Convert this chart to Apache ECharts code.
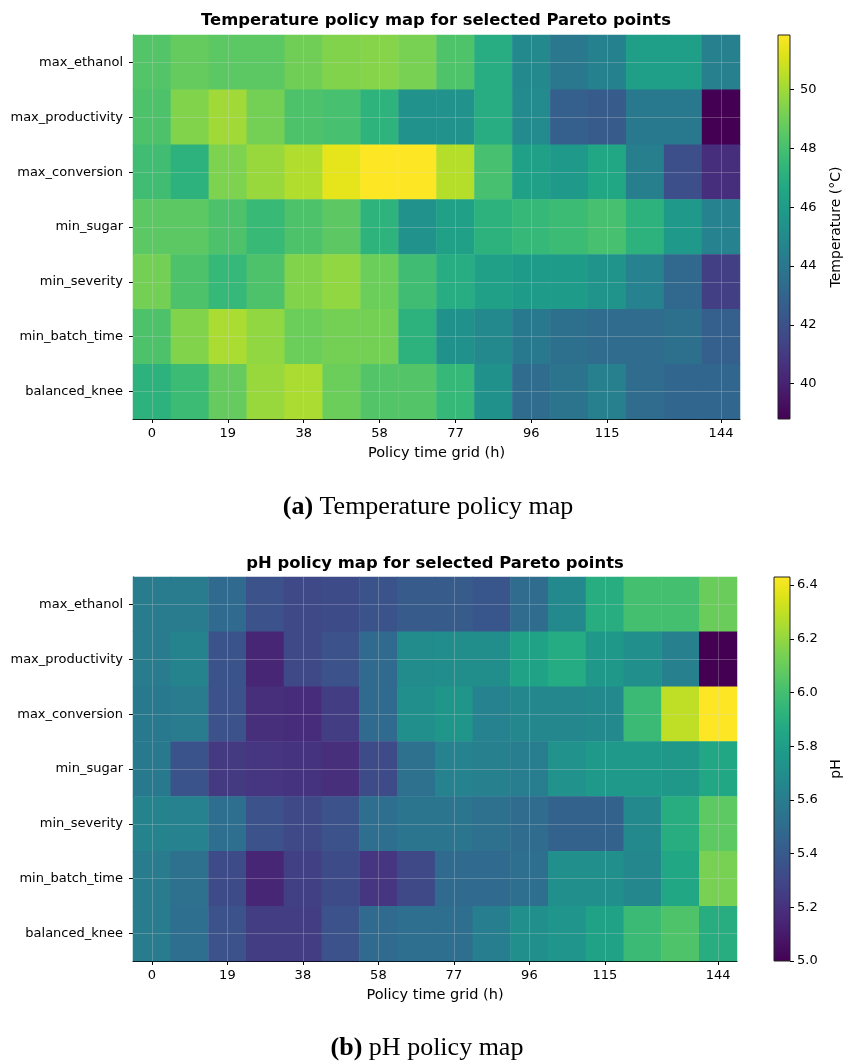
<!DOCTYPE html>
<html>
<head>
<meta charset="utf-8">
<title>Policy maps</title>
<script src="https://cdn.jsdelivr.net/npm/echarts@6/dist/echarts.min.js"></script>
<style>
    html, body { margin: 0; padding: 0; background: #fff; }
    #policy_maps { width: 844px; height: 1061px; }
</style>
</head>
<body>
<div id="policy_maps"></div>
<script>

// ------------------------------
// Data
// ------------------------------

var paretoPoints = ['max_ethanol', 'max_productivity', 'max_conversion', 'min_sugar',
    'min_severity', 'min_batch_time', 'balanced_knee'];

// policy time grid (h), 16 control intervals
var timeGrid = [0, 9.6, 19.2, 28.8, 38.4, 48, 57.6, 67.2, 76.8, 86.4, 96, 105.6, 115.2, 124.8, 134.4, 144];
var timeTickIdx = [0, 2, 4, 6, 8, 10, 12, 15];

// temperature (°C), one row per pareto point
var tempMaxEthanol      = [48.3, 48.75, 48.5, 48.5, 49.0, 49.4, 49.45, 49.2, 48.2, 46.9, 44.9, 44.0, 44.5, 46.1, 46.1, 44.45];
var tempMaxProductivity = [48.15, 49.4, 50.0, 49.1, 48.15, 48.0, 47.25, 45.4, 45.4, 46.9, 45.0, 42.7, 42.55, 44.1, 44.1, 38.8];
var tempMaxConversion   = [47.8, 47.2, 49.3, 49.85, 50.3, 51.35, 51.85, 51.85, 50.4, 48.0, 46.2, 45.8, 46.6, 44.4, 41.9, 40.5];
var tempMinSugar        = [48.5, 48.5, 48.15, 47.6, 48.15, 48.55, 47.25, 45.4, 46.2, 47.2, 47.5, 47.7, 48.0, 47.2, 45.8, 44.55];
var tempMinSeverity     = [49.1, 48.15, 47.5, 48.15, 49.4, 49.7, 48.9, 47.8, 46.9, 46.2, 46.0, 45.9, 45.5, 44.55, 43.2, 41.2];
var tempMinBatchTime    = [48.15, 49.4, 50.2, 49.7, 48.9, 49.1, 49.1, 47.2, 45.3, 44.9, 44.1, 43.6, 43.35, 43.35, 43.6, 42.7];
var tempBalancedKnee    = [47.2, 47.7, 48.75, 49.85, 50.2, 48.9, 48.3, 48.3, 47.5, 45.3, 43.35, 43.8, 44.45, 43.35, 43.1, 43.1];

// pH, one row per pareto point
var phMaxEthanol      = [5.59, 5.59, 5.49, 5.36, 5.31, 5.32, 5.37, 5.41, 5.41, 5.38, 5.50, 5.67, 5.89, 6.0, 6.0, 6.1];
var phMaxProductivity = [5.59, 5.64, 5.37, 5.15, 5.31, 5.36, 5.49, 5.69, 5.70, 5.70, 5.82, 5.88, 5.76, 5.71, 5.62, 5.0];
var phMaxConversion   = [5.58, 5.59, 5.36, 5.19, 5.18, 5.26, 5.49, 5.71, 5.75, 5.63, 5.66, 5.66, 5.67, 5.97, 6.29, 6.43];
var phMinSugar        = [5.58, 5.37, 5.24, 5.22, 5.21, 5.19, 5.32, 5.53, 5.63, 5.62, 5.60, 5.72, 5.77, 5.77, 5.76, 5.85];
var phMinSeverity     = [5.64, 5.63, 5.51, 5.36, 5.31, 5.36, 5.51, 5.56, 5.56, 5.53, 5.50, 5.45, 5.45, 5.67, 5.89, 6.07];
var phMinBatchTime    = [5.59, 5.53, 5.32, 5.15, 5.27, 5.32, 5.22, 5.31, 5.49, 5.49, 5.51, 5.71, 5.71, 5.66, 5.85, 6.14];
var phBalancedKnee    = [5.59, 5.51, 5.36, 5.26, 5.26, 5.36, 5.49, 5.51, 5.51, 5.61, 5.71, 5.74, 5.82, 5.97, 6.03, 5.89];

// colorbar ranges and ticks
var tempRange = [38.8, 51.85];
var tempTicks = [40, 42, 44, 46, 48, 50];
var phRange = [5.0, 6.43];
var phTicks = [5.0, 5.2, 5.4, 5.6, 5.8, 6.0, 6.2, 6.4];

var tempRows = [tempMaxEthanol, tempMaxProductivity, tempMaxConversion, tempMinSugar,
    tempMinSeverity, tempMinBatchTime, tempBalancedKnee];
var phRows = [phMaxEthanol, phMaxProductivity, phMaxConversion, phMinSugar,
    phMinSeverity, phMinBatchTime, phBalancedKnee];


// ------------------------------
// Setup
// ------------------------------

var viridis = ['#440154', '#471365', '#482475', '#463480', '#414487', '#3b528b', '#355f8d',
    '#2f6c8e', '#2a788e', '#25848e', '#21918c', '#1e9c89', '#22a884', '#2fb47c', '#44bf70',
    '#5ec962', '#7ad151', '#9bd93c', '#bddf26', '#dfe318', '#fde725'];

var FONT = 'DejaVu Sans';
var timeLabels = timeGrid.map(function (t) { return String(Math.round(t)); });

var toCells = function (rows) {
    var cells = [];
    rows.forEach(function (row, r) {
        row.forEach(function (v, c) {
            cells.push([c, r, v]);
        });
    });
    return cells;
};

var isTimeTick = function (index) {
    return timeTickIdx.indexOf(index) >= 0;
};

// grid lines like matplotlib's ax.grid
var gridLines = function () {
    var lines = timeTickIdx.map(function (i) { return { xAxis: timeLabels[i] }; });
    paretoPoints.forEach(function (p) { lines.push({ yAxis: p }); });
    return {
        silent: true,
        symbol: 'none',
        label: { show: false },
        lineStyle: { color: 'rgba(215,215,215,0.35)', width: 0.8, type: 'solid' },
        emphasis: { disabled: true },
        data: lines
    };
};

var heatXAxis = function (gridIndex) {
    return {
        gridIndex: gridIndex,
        type: 'category',
        data: timeLabels,
        name: 'Policy time grid (h)',
        nameLocation: 'middle',
        nameGap: 27,
        nameTextStyle: { fontFamily: FONT, fontSize: 14.5, color: '#000' },
        axisLine: { show: true, lineStyle: { color: '#000', width: 1 } },
        axisTick: { show: true, alignWithLabel: true, length: 4, interval: isTimeTick,
            lineStyle: { color: '#000' } },
        axisLabel: { interval: isTimeTick, fontFamily: FONT, fontSize: 13, color: '#000', margin: 8 },
        splitLine: { show: false }
    };
};

var heatYAxis = function (gridIndex) {
    return {
        gridIndex: gridIndex,
        type: 'category',
        data: paretoPoints,
        inverse: true,
        axisLine: { show: true, lineStyle: { color: '#000', width: 1 } },
        axisTick: { show: true, alignWithLabel: true, length: 4, lineStyle: { color: '#000' } },
        axisLabel: { fontFamily: FONT, fontSize: 13, color: '#000', margin: 10 },
        splitLine: { show: false }
    };
};

var barXAxis = function (gridIndex) {
    return { gridIndex: gridIndex, type: 'category', data: ['cb'], show: false };
};

var barYAxis = function (gridIndex, range, ticks, name, fmt, labelGap) {
    return {
        gridIndex: gridIndex,
        type: 'value',
        position: 'right',
        min: range[0],
        max: range[1],
        name: name,
        nameLocation: 'middle',
        nameRotate: 90,
        nameGap: 39,
        nameTextStyle: { fontFamily: FONT, fontSize: 14, color: '#000' },
        axisLine: { show: false },
        splitLine: { show: false },
        axisTick: { show: true, length: 4, customValues: ticks, lineStyle: { color: '#000' } },
        axisLabel: { customValues: ticks, formatter: fmt, fontFamily: FONT, fontSize: 13,
            color: '#000', margin: labelGap }
    };
};

// colorbar drawn through the value axis
var colorbarSeries = function (axisIndex, range) {
    return {
        type: 'custom',
        xAxisIndex: axisIndex,
        yAxisIndex: axisIndex,
        silent: true,
        data: [[0, range[0], range[1]]],
        renderItem: function (params, api) {
            var lo = api.coord([0, api.value(1)]);
            var hi = api.coord([0, api.value(2)]);
            var w = api.size([1, 0])[0];
            var stops = viridis.map(function (c, i) {
                return { offset: i / (viridis.length - 1), color: c };
            });
            return {
                type: 'rect',
                shape: { x: lo[0] - w / 2, y: hi[1], width: w, height: lo[1] - hi[1] },
                style: {
                    fill: new echarts.graphic.LinearGradient(0, 1, 0, 0, stops),
                    stroke: '#222',
                    lineWidth: 1
                }
            };
        }
    };
};

var heatSeries = function (axisIndex, rows) {
    return {
        type: 'heatmap',
        xAxisIndex: axisIndex,
        yAxisIndex: axisIndex,
        data: toCells(rows),
        silent: true,
        emphasis: { disabled: true },
        progressive: 0,
        markLine: gridLines()
    };
};

var textEl = function (x, y, text, size, weight, family, rich) {
    return {
        type: 'text',
        x: x,
        y: y,
        style: {
            text: text,
            fontSize: size,
            fontWeight: weight,
            fontFamily: family,
            fill: '#000',
            align: 'center',
            verticalAlign: 'middle',
            textAlign: 'center',
            textVerticalAlign: 'middle',
            rich: rich
        }
    };
};

var captionRich = { b: { fontWeight: 'bold', fontSize: 26, fontFamily: 'Liberation Serif', fill: '#000' } };


// ------------------------------
// Chart
// ------------------------------

var policyMaps = echarts.init(document.getElementById('policy_maps'), null, { renderer: 'canvas' });

policyMaps.setOption({
    animation: false,
    backgroundColor: '#fff',
    textStyle: { fontFamily: FONT },

    grid: [
        { left: 133, top: 35, width: 607, height: 384 },
        { left: 778, top: 35, width: 20, height: 384 },
        { left: 133, top: 577, width: 604, height: 384 },
        { left: 774, top: 577, width: 20, height: 384 }
    ],

    xAxis: [heatXAxis(0), barXAxis(1), heatXAxis(2), barXAxis(3)],

    yAxis: [
        heatYAxis(0),
        barYAxis(1, tempRange, tempTicks, 'Temperature (°C)', function (v) { return String(v); }, 10),
        heatYAxis(2),
        barYAxis(3, phRange, phTicks, 'pH', function (v) { return v.toFixed(1); }, 7)
    ],

    visualMap: [
        { show: false, type: 'continuous', seriesIndex: 0, min: tempRange[0], max: tempRange[1],
            inRange: { color: viridis } },
        { show: false, type: 'continuous', seriesIndex: 2, min: phRange[0], max: phRange[1],
            inRange: { color: viridis } }
    ],

    series: [
        heatSeries(0, tempRows),
        colorbarSeries(1, tempRange),
        heatSeries(2, phRows),
        colorbarSeries(3, phRange)
    ],

    graphic: [
        textEl(436, 21, 'Temperature policy map for selected Pareto points', 16.4, 'bold', FONT),
        textEl(435, 564, 'pH policy map for selected Pareto points', 16.4, 'bold', FONT),
        textEl(428, 507, '{b|(a)} Temperature policy map', 26, 'normal', 'Liberation Serif', captionRich),
        textEl(427, 1048, '{b|(b)} pH policy map', 26, 'normal', 'Liberation Serif', captionRich)
    ]
});

</script>
</body>
</html>
